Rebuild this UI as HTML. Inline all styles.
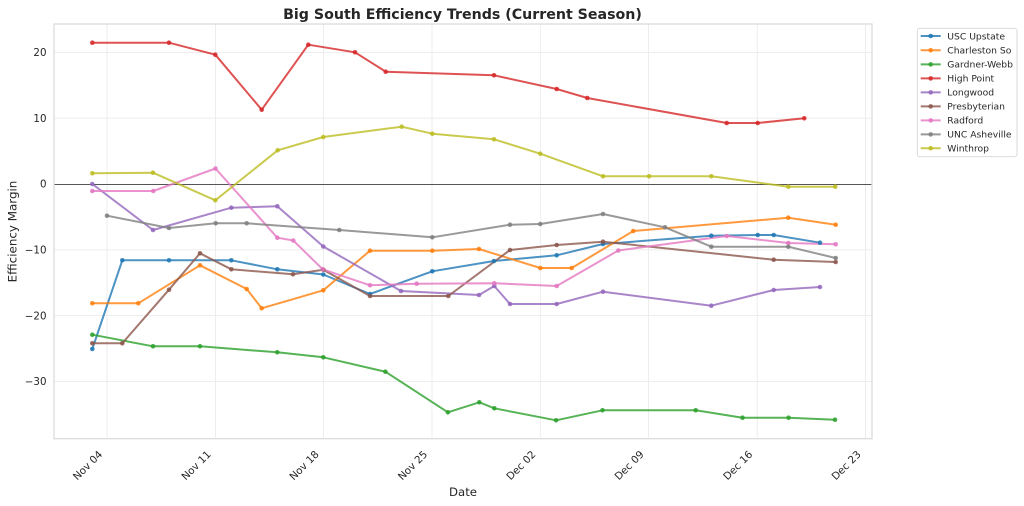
<!DOCTYPE html>
<html><head><meta charset="utf-8"><style>
html,body{margin:0;padding:0;background:#fff;}
svg{display:block;font-family:"DejaVu Sans","Liberation Sans",sans-serif;}
</style></head><body>
<svg width="1024" height="506" viewBox="0 0 1024 506" xmlns="http://www.w3.org/2000/svg">
<rect x="0" y="0" width="1024" height="506" fill="#fff"/>
<!-- grid -->
<g stroke="#ebebeb" stroke-width="0.9">
<line x1="107" y1="24" x2="107" y2="438.7"/>
<line x1="215.5" y1="24" x2="215.5" y2="438.7"/>
<line x1="323.5" y1="24" x2="323.5" y2="438.7"/>
<line x1="432" y1="24" x2="432" y2="438.7"/>
<line x1="540.3" y1="24" x2="540.3" y2="438.7"/>
<line x1="648.5" y1="24" x2="648.5" y2="438.7"/>
<line x1="757.2" y1="24" x2="757.2" y2="438.7"/>
<line x1="865.5" y1="24" x2="865.5" y2="438.7"/>
<line x1="54" y1="52.4" x2="872" y2="52.4"/>
<line x1="54" y1="118.2" x2="872" y2="118.2"/>
<line x1="54" y1="249.8" x2="872" y2="249.8"/>
<line x1="54" y1="315.6" x2="872" y2="315.6"/>
<line x1="54" y1="381.4" x2="872" y2="381.4"/>
</g>
<!-- zero line -->
<line x1="54" y1="184.5" x2="872" y2="184.5" stroke="#555" stroke-width="1"/>
<!-- frame -->
<rect x="54" y="24" width="818" height="414.7" fill="none" stroke="#dcdcdc" stroke-width="1.3"/>

<!-- series -->
<g fill="none" stroke-width="2" stroke-opacity="0.8" stroke-linejoin="round" stroke-linecap="round">
<polyline stroke="#1f77b4" points="92.3,349 122.3,260.3 169,260.3 231.3,260.3 277.3,269.3 323.3,274.5 370,294 432.3,271.3 494,261 556.7,255.3 603,244 711.3,235.7 757.7,235 773.7,235 820,242.7"/>
<polyline stroke="#ff7f0e" points="92.3,303.3 138.3,303.3 200,265.3 246.7,289 261.7,308.3 323.3,290.3 370,250.7 432.3,250.7 479,249 540.3,268 571.7,268 633.3,231 788.3,217.7 835.7,224.7"/>
<polyline stroke="#2ca02c" points="92.3,334.7 153,346.3 200,346.3 277.3,352.3 323.3,357.3 385.4,371.7 447.9,412.3 479.3,402.3 494.3,408.3 556.1,420.3 602.5,410.3 695.7,410.3 742.5,417.7 788.6,417.7 835,419.7"/>
<polyline stroke="#d62728" points="92.3,42.7 169,42.7 215.3,54.7 261.7,109.7 308.3,44.7 355,52.3 385.7,71.7 494,75.3 556.7,89 587.3,98 726.7,123 757.7,123 804.3,118.3"/>
<polyline stroke="#9467bd" points="92.3,184 153,230 231.3,207.7 277.3,206.3 323.3,246.5 401,291 479,295 494.3,286 510,304 556.7,304 603,291.7 711.3,305.7 773.7,290 820,287"/>
<polyline stroke="#8c564b" points="92.3,343.3 122.3,343.3 169,289.7 200,253.3 231.3,269.3 293,274.3 323.3,269.7 370,296 448.3,296 510,250 556.7,245 603,241.7 773.7,259.7 835.7,262"/>
<polyline stroke="#e377c2" points="92.3,191 153.3,191 215.5,168.5 277.3,237.7 293.3,240.5 322.7,269.3 370,285.3 416.7,283.7 494.3,283.3 556.7,286 618.3,250.5 726.7,236 788.3,243 835.7,244.3"/>
<polyline stroke="#7f7f7f" points="107,215.7 169,228 215.7,223.3 246.7,223.3 339.3,230 432.3,237.3 510,224.7 540.3,224 603,214 665,227.3 711.3,246.7 788.3,246.7 835.7,258"/>
<polyline stroke="#bcbd22" points="92.3,173.3 153,172.7 215.3,200.3 277.7,150.3 323.3,137 401.7,126.7 432.3,133.7 494,139.3 540.3,153.7 603,176.3 649,176.3 711.3,176.3 788.3,186.7 835.3,186.7"/>
</g>
<!-- markers -->
<g fill-opacity="0.85">
<g fill="#1f77b4"><circle cx="92.3" cy="349" r="2.3"/><circle cx="122.3" cy="260.3" r="2.3"/><circle cx="169" cy="260.3" r="2.3"/><circle cx="231.3" cy="260.3" r="2.3"/><circle cx="277.3" cy="269.3" r="2.3"/><circle cx="323.3" cy="274.5" r="2.3"/><circle cx="370" cy="294" r="2.3"/><circle cx="432.3" cy="271.3" r="2.3"/><circle cx="494" cy="261" r="2.3"/><circle cx="556.7" cy="255.3" r="2.3"/><circle cx="603" cy="244" r="2.3"/><circle cx="711.3" cy="235.7" r="2.3"/><circle cx="757.7" cy="235" r="2.3"/><circle cx="773.7" cy="235" r="2.3"/><circle cx="820" cy="242.7" r="2.3"/></g>
<g fill="#ff7f0e"><circle cx="92.3" cy="303.3" r="2.3"/><circle cx="138.3" cy="303.3" r="2.3"/><circle cx="200" cy="265.3" r="2.3"/><circle cx="246.7" cy="289" r="2.3"/><circle cx="261.7" cy="308.3" r="2.3"/><circle cx="323.3" cy="290.3" r="2.3"/><circle cx="370" cy="250.7" r="2.3"/><circle cx="432.3" cy="250.7" r="2.3"/><circle cx="479" cy="249" r="2.3"/><circle cx="540.3" cy="268" r="2.3"/><circle cx="571.7" cy="268" r="2.3"/><circle cx="633.3" cy="231" r="2.3"/><circle cx="788.3" cy="217.7" r="2.3"/><circle cx="835.7" cy="224.7" r="2.3"/></g>
<g fill="#2ca02c"><circle cx="92.3" cy="334.7" r="2.3"/><circle cx="153" cy="346.3" r="2.3"/><circle cx="200" cy="346.3" r="2.3"/><circle cx="277.3" cy="352.3" r="2.3"/><circle cx="323.3" cy="357.3" r="2.3"/><circle cx="385.4" cy="371.7" r="2.3"/><circle cx="447.9" cy="412.3" r="2.3"/><circle cx="479.3" cy="402.3" r="2.3"/><circle cx="494.3" cy="408.3" r="2.3"/><circle cx="556.1" cy="420.3" r="2.3"/><circle cx="602.5" cy="410.3" r="2.3"/><circle cx="695.7" cy="410.3" r="2.3"/><circle cx="742.5" cy="417.7" r="2.3"/><circle cx="788.6" cy="417.7" r="2.3"/><circle cx="835" cy="419.7" r="2.3"/></g>
<g fill="#d62728"><circle cx="92.3" cy="42.7" r="2.3"/><circle cx="169" cy="42.7" r="2.3"/><circle cx="215.3" cy="54.7" r="2.3"/><circle cx="261.7" cy="109.7" r="2.3"/><circle cx="308.3" cy="44.7" r="2.3"/><circle cx="355" cy="52.3" r="2.3"/><circle cx="385.7" cy="71.7" r="2.3"/><circle cx="494" cy="75.3" r="2.3"/><circle cx="556.7" cy="89" r="2.3"/><circle cx="587.3" cy="98" r="2.3"/><circle cx="726.7" cy="123" r="2.3"/><circle cx="757.7" cy="123" r="2.3"/><circle cx="804.3" cy="118.3" r="2.3"/></g>
<g fill="#9467bd"><circle cx="92.3" cy="184" r="2.3"/><circle cx="153" cy="230" r="2.3"/><circle cx="231.3" cy="207.7" r="2.3"/><circle cx="277.3" cy="206.3" r="2.3"/><circle cx="323.3" cy="246.5" r="2.3"/><circle cx="401" cy="291" r="2.3"/><circle cx="479" cy="295" r="2.3"/><circle cx="494.3" cy="286" r="2.3"/><circle cx="510" cy="304" r="2.3"/><circle cx="556.7" cy="304" r="2.3"/><circle cx="603" cy="291.7" r="2.3"/><circle cx="711.3" cy="305.7" r="2.3"/><circle cx="773.7" cy="290" r="2.3"/><circle cx="820" cy="287" r="2.3"/></g>
<g fill="#8c564b"><circle cx="92.3" cy="343.3" r="2.3"/><circle cx="122.3" cy="343.3" r="2.3"/><circle cx="169" cy="289.7" r="2.3"/><circle cx="200" cy="253.3" r="2.3"/><circle cx="231.3" cy="269.3" r="2.3"/><circle cx="293" cy="274.3" r="2.3"/><circle cx="323.3" cy="269.7" r="2.3"/><circle cx="370" cy="296" r="2.3"/><circle cx="448.3" cy="296" r="2.3"/><circle cx="510" cy="250" r="2.3"/><circle cx="556.7" cy="245" r="2.3"/><circle cx="603" cy="241.7" r="2.3"/><circle cx="773.7" cy="259.7" r="2.3"/><circle cx="835.7" cy="262" r="2.3"/></g>
<g fill="#e377c2"><circle cx="92.3" cy="191" r="2.3"/><circle cx="153.3" cy="191" r="2.3"/><circle cx="215.5" cy="168.5" r="2.3"/><circle cx="277.3" cy="237.7" r="2.3"/><circle cx="293.3" cy="240.5" r="2.3"/><circle cx="322.7" cy="269.3" r="2.3"/><circle cx="370" cy="285.3" r="2.3"/><circle cx="416.7" cy="283.7" r="2.3"/><circle cx="494.3" cy="283.3" r="2.3"/><circle cx="556.7" cy="286" r="2.3"/><circle cx="618.3" cy="250.5" r="2.3"/><circle cx="726.7" cy="236" r="2.3"/><circle cx="788.3" cy="243" r="2.3"/><circle cx="835.7" cy="244.3" r="2.3"/></g>
<g fill="#7f7f7f"><circle cx="107" cy="215.7" r="2.3"/><circle cx="169" cy="228" r="2.3"/><circle cx="215.7" cy="223.3" r="2.3"/><circle cx="246.7" cy="223.3" r="2.3"/><circle cx="339.3" cy="230" r="2.3"/><circle cx="432.3" cy="237.3" r="2.3"/><circle cx="510" cy="224.7" r="2.3"/><circle cx="540.3" cy="224" r="2.3"/><circle cx="603" cy="214" r="2.3"/><circle cx="665" cy="227.3" r="2.3"/><circle cx="711.3" cy="246.7" r="2.3"/><circle cx="788.3" cy="246.7" r="2.3"/><circle cx="835.7" cy="258" r="2.3"/></g>
<g fill="#bcbd22"><circle cx="92.3" cy="173.3" r="2.3"/><circle cx="153" cy="172.7" r="2.3"/><circle cx="215.3" cy="200.3" r="2.3"/><circle cx="277.7" cy="150.3" r="2.3"/><circle cx="323.3" cy="137" r="2.3"/><circle cx="401.7" cy="126.7" r="2.3"/><circle cx="432.3" cy="133.7" r="2.3"/><circle cx="494" cy="139.3" r="2.3"/><circle cx="540.3" cy="153.7" r="2.3"/><circle cx="603" cy="176.3" r="2.3"/><circle cx="649" cy="176.3" r="2.3"/><circle cx="711.3" cy="176.3" r="2.3"/><circle cx="788.3" cy="186.7" r="2.3"/><circle cx="835.3" cy="186.7" r="2.3"/></g>
</g>

<!-- y tick labels -->
<g font-size="10.3" fill="#262626" text-anchor="end">
<text x="46.5" y="56.1">20</text>
<text x="46.5" y="121.9">10</text>
<text x="46.5" y="187.7">0</text>
<text x="46.5" y="253.5">−10</text>
<text x="46.5" y="319.3">−20</text>
<text x="46.5" y="385.1">−30</text>
</g>
<!-- x tick labels -->
<g font-size="10.3" fill="#262626" text-anchor="end">
<text transform="translate(103,455) rotate(-45)">Nov 04</text>
<text transform="translate(211.5,455) rotate(-45)">Nov 11</text>
<text transform="translate(319.5,455) rotate(-45)">Nov 18</text>
<text transform="translate(428,455) rotate(-45)">Nov 25</text>
<text transform="translate(536.3,455) rotate(-45)">Dec 02</text>
<text transform="translate(644.5,455) rotate(-45)">Dec 09</text>
<text transform="translate(753.2,455) rotate(-45)">Dec 16</text>
<text transform="translate(861.5,455) rotate(-45)">Dec 23</text>
</g>
<!-- axis labels -->
<text x="463" y="496" font-size="11.7" fill="#262626" text-anchor="middle">Date</text>
<text transform="translate(16.5,231.5) rotate(-90)" font-size="11.9" fill="#262626" text-anchor="middle">Efficiency Margin</text>
<!-- title -->
<text x="462.5" y="19" font-size="14.2" font-weight="bold" fill="#262626" text-anchor="middle">Big South Efficiency Trends (Current Season)</text>

<!-- legend -->
<rect x="917.3" y="28.3" width="99.7" height="128.4" rx="2.5" ry="2.5" fill="#fff" fill-opacity="0.8" stroke="#d6d6d6" stroke-width="0.9"/>
<g stroke-width="2" stroke-opacity="0.8">
<line x1="920.7" y1="36" x2="940.7" y2="36" stroke="#1f77b4"/>
<line x1="920.7" y1="50.3" x2="940.7" y2="50.3" stroke="#ff7f0e"/>
<line x1="920.7" y1="64.4" x2="940.7" y2="64.4" stroke="#2ca02c"/>
<line x1="920.7" y1="78.4" x2="940.7" y2="78.4" stroke="#d62728"/>
<line x1="920.7" y1="92.4" x2="940.7" y2="92.4" stroke="#9467bd"/>
<line x1="920.7" y1="106.4" x2="940.7" y2="106.4" stroke="#8c564b"/>
<line x1="920.7" y1="120.4" x2="940.7" y2="120.4" stroke="#e377c2"/>
<line x1="920.7" y1="134.4" x2="940.7" y2="134.4" stroke="#7f7f7f"/>
<line x1="920.7" y1="148.2" x2="940.7" y2="148.2" stroke="#bcbd22"/>
</g>
<g fill-opacity="0.85">
<circle cx="930.7" cy="36" r="2.3" fill="#1f77b4"/>
<circle cx="930.7" cy="50.3" r="2.3" fill="#ff7f0e"/>
<circle cx="930.7" cy="64.4" r="2.3" fill="#2ca02c"/>
<circle cx="930.7" cy="78.4" r="2.3" fill="#d62728"/>
<circle cx="930.7" cy="92.4" r="2.3" fill="#9467bd"/>
<circle cx="930.7" cy="106.4" r="2.3" fill="#8c564b"/>
<circle cx="930.7" cy="120.4" r="2.3" fill="#e377c2"/>
<circle cx="930.7" cy="134.4" r="2.3" fill="#7f7f7f"/>
<circle cx="930.7" cy="148.2" r="2.3" fill="#bcbd22"/>
</g>
<g font-size="9.2" fill="#262626">
<text x="947.3" y="39.3">USC Upstate</text>
<text x="947.3" y="53.6">Charleston So</text>
<text x="947.3" y="67.7">Gardner-Webb</text>
<text x="947.3" y="81.7">High Point</text>
<text x="947.3" y="95.7">Longwood</text>
<text x="947.3" y="109.7">Presbyterian</text>
<text x="947.3" y="123.7">Radford</text>
<text x="947.3" y="137.7">UNC Asheville</text>
<text x="947.3" y="151.5">Winthrop</text>
</g>
</svg>
</body></html>
